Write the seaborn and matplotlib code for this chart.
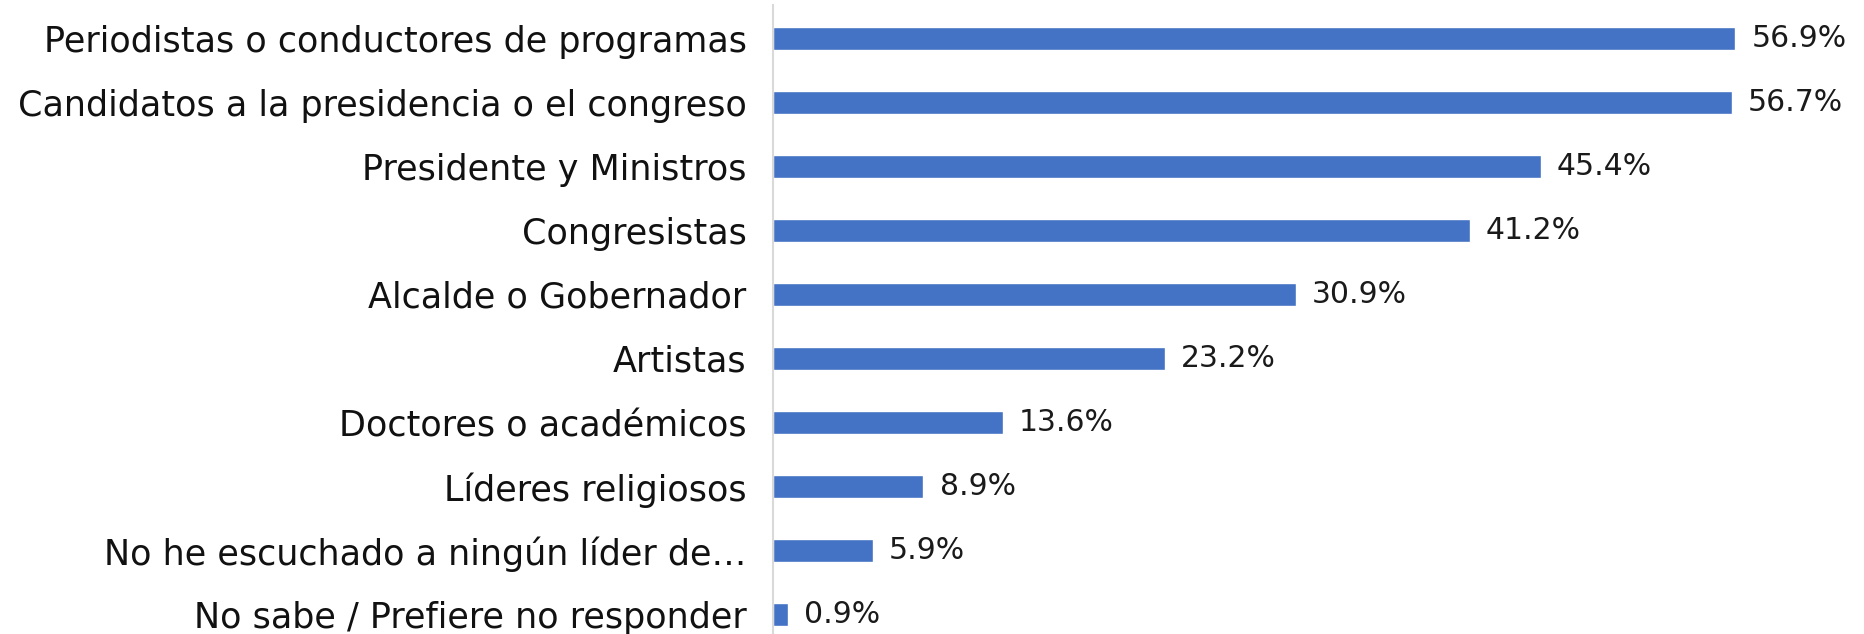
import matplotlib.pyplot as plt
import pandas as pd
import seaborn as sns

categories = [
    'Periodistas o conductores de programas',
    'Candidatos a la presidencia o el congreso',
    'Presidente y Ministros',
    'Congresistas',
    'Alcalde o Gobernador',
    'Artistas',
    'Doctores o académicos',
    'Líderes religiosos',
    'No he escuchado a ningún líder de…',
    'No sabe / Prefiere no responder',
]
values = [56.9, 56.7, 45.4, 41.2, 30.9, 23.2, 13.6, 8.9, 5.9, 0.9]

df = pd.DataFrame({'categoria': categories, 'valor': values})

sns.set_theme(style='white')
plt.rcParams['font.family'] = ['DejaVu Sans']

fig = plt.figure(figsize=(18.64, 6.34), dpi=100)
ax = fig.add_axes([0.4147, 0.0, 0.5443, 0.992])

sns.barplot(data=df, x='valor', y='categoria', color='#4472C4', saturation=1,
            width=0.36, orient='h', ax=ax)

for i, v in enumerate(values):
    ax.text(v + 0.95, i, f'{v:.1f}%', va='center', ha='left', fontsize=21.5,
            color='#1a1a1a', clip_on=False)

ax.set_xlim(0, 60)
ax.set_ylim(9.3, -0.515)
ax.set_xlabel('')
ax.set_ylabel('')
ax.set_xticks([])
ax.tick_params(axis='y', length=0, pad=19, labelsize=25.2, labelcolor='#111111')
for s in ['top', 'right', 'bottom']:
    ax.spines[s].set_visible(False)
ax.spines['left'].set_color('#D9D9D9')
ax.spines['left'].set_linewidth(1.5)

fig.savefig('out.png', dpi=100)
